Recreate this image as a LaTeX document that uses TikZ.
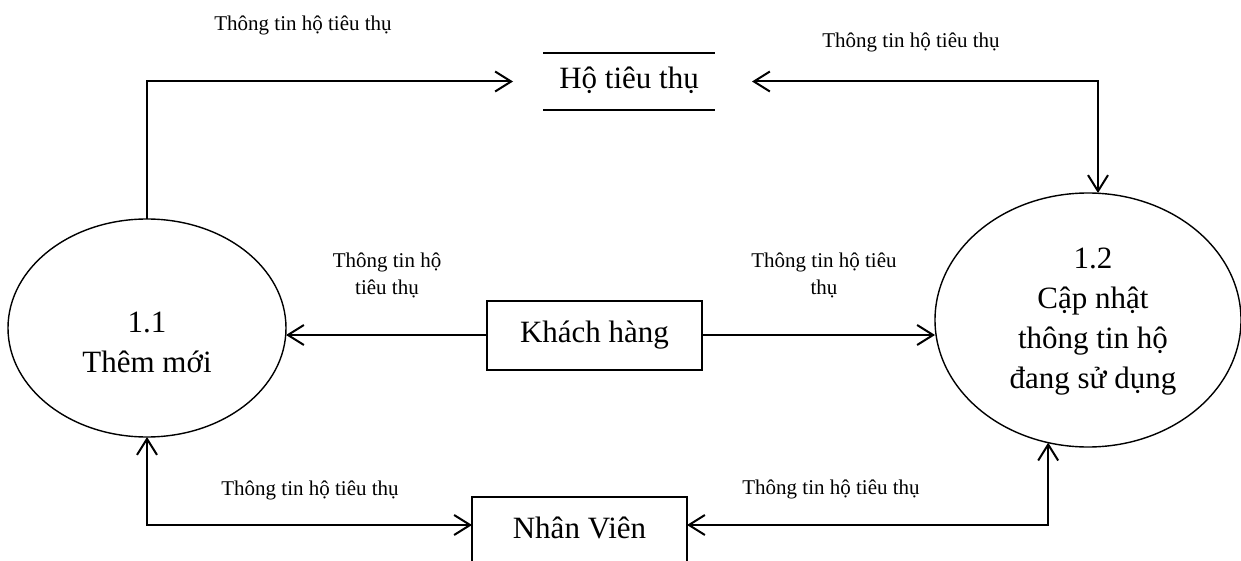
\documentclass[tikz,border=0pt]{standalone}
\usepackage{fontspec}
\setmainfont{Liberation Serif}
\usetikzlibrary{arrows.meta,shapes.geometric}
\begin{document}
\begin{tikzpicture}[x=1pt,y=-1pt,
  >={Straight Barb[length=16pt,width=20pt]},
  proc/.style={draw, ellipse, line width=1.4pt, inner sep=0pt, outer sep=0pt},
  ent/.style={draw, rectangle, line width=2pt, inner sep=0pt, outer sep=0pt,
    minimum width=215pt, minimum height=69pt, text height=21pt, text depth=7pt},
  big/.style={font=\fontsize{31}{40}\selectfont, align=center, inner sep=0pt},
  lbl/.style={font=\fontsize{21}{27}\selectfont, align=center, inner sep=0pt, anchor=base},
  flow/.style={line width=2pt},
]
\useasboundingbox (0,0) rectangle (1241,561);

% processes
\node[proc, minimum width=278pt, minimum height=218pt] (p11) at (147,328) {};
\node[big, anchor=base] (t11) at (147,372) {1.1\\Thêm mới};
\node[proc, minimum width=306pt, minimum height=254pt] (p12) at (1088,320) {};
\node[big, anchor=base] (t12) at (1093,388) {1.2\\Cập nhật\\thông tin hộ\\đang sử dụng};

% data store
\node[big, minimum width=172pt, minimum height=57pt, outer sep=0pt,
      text height=21pt, text depth=7pt] (store) at (629,81.5) {Hộ tiêu thụ};
\draw[flow] (store.north west) -- (store.north east)
            (store.south west) -- (store.south east);

% external entities
\node[ent, big] (kh) at (594.5,335) {Khách hàng};
\node[ent, big] (nv) at (579.5,531) {Nhân Viên};

% labels
\node[lbl] (l1) at (303,31) {Thông tin hộ tiêu thụ};
\node[lbl] (l2) at (911,48) {Thông tin hộ tiêu thụ};
\node[lbl] (l3) at (387,294) {Thông tin hộ\\tiêu thụ};
\node[lbl] (l4) at (824,294) {Thông tin hộ tiêu\\thụ};
\node[lbl] (l5) at (310,495) {Thông tin hộ tiêu thụ};
\node[lbl] (l6) at (831,494) {Thông tin hộ tiêu thụ};

% flows
\coordinate (c2) at (1098,81.5);
\draw[flow,->] (p11.north) |- ([xshift=-30pt]store.west);
\draw[flow,<->] ([xshift=37pt]store.east) -- (c2) -- (c2 |- p12.north);
\draw[flow,->] (kh.west) -- (kh.west -| p11.east);
\draw[flow,->] (kh.east) -- (kh.east -| p12.west);
\draw[flow,<->] (p11.south) |- ([yshift=6pt]nv.west);
\draw[flow,<->] ([yshift=6pt]nv.east) -| (p12.252.8);
\end{tikzpicture}
\end{document}
